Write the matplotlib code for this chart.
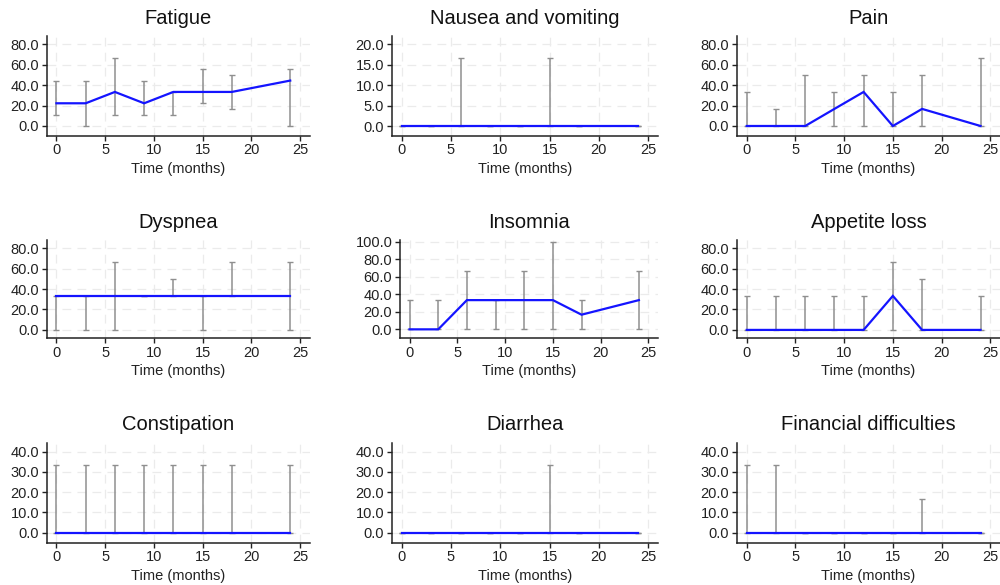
import matplotlib
matplotlib.use("Agg")
import matplotlib.pyplot as plt
from matplotlib.ticker import FormatStrFormatter, MultipleLocator

plt.rcParams['font.family'] = ['Liberation Sans', 'DejaVu Sans']

# ---------------- data ----------------
time = [0, 3, 6, 9, 12, 15, 18, 24]

titles = ["Fatigue", "Nausea and vomiting", "Pain",
          "Dyspnea", "Insomnia", "Appetite loss",
          "Constipation", "Diarrhea", "Financial difficulties"]

fatigue_med = [22.2, 22.2, 33.3, 22.2, 33.3, 33.3, 33.3, 44.4]
fatigue_lo = [11.1, 0.0, 11.1, 11.1, 11.1, 22.2, 16.7, 0.0]
fatigue_hi = [44.4, 44.4, 66.7, 44.4, 33.3, 55.6, 50.0, 55.6]

nausea_med = [0, 0, 0, 0, 0, 0, 0, 0]
nausea_lo = [0, 0, 0, 0, 0, 0, 0, 0]
nausea_hi = [0, 0, 16.7, 0, 0, 16.7, 0, 0]

pain_med = [0, 0, 0, 16.7, 33.3, 0, 16.7, 0]
pain_lo = [0, 0, 0, 0, 0, 0, 0, 0]
pain_hi = [33.3, 16.7, 50.0, 33.3, 50.0, 33.3, 50.0, 66.7]

dyspnea_med = [33.3, 33.3, 33.3, 33.3, 33.3, 33.3, 33.3, 33.3]
dyspnea_lo = [0, 0, 0, 33.3, 33.3, 0, 33.3, 0]
dyspnea_hi = [33.3, 33.3, 66.7, 33.3, 50.0, 33.3, 66.7, 66.7]

insomnia_med = [0, 0, 33.3, 33.3, 33.3, 33.3, 16.7, 33.3]
insomnia_lo = [0, 0, 0, 0, 0, 0, 0, 0]
insomnia_hi = [33.3, 33.3, 66.7, 33.3, 66.7, 100.0, 33.3, 66.7]

appetite_med = [0, 0, 0, 0, 0, 33.3, 0, 0]
appetite_lo = [0, 0, 0, 0, 0, 0, 0, 0]
appetite_hi = [33.3, 33.3, 33.3, 33.3, 33.3, 66.7, 50.0, 33.3]

constipation_med = [0, 0, 0, 0, 0, 0, 0, 0]
constipation_lo = [0, 0, 0, 0, 0, 0, 0, 0]
constipation_hi = [33.3, 33.3, 33.3, 33.3, 33.3, 33.3, 33.3, 33.3]

diarrhea_med = [0, 0, 0, 0, 0, 0, 0, 0]
diarrhea_lo = [0, 0, 0, 0, 0, 0, 0, 0]
diarrhea_hi = [0, 0, 0, 0, 0, 33.3, 0, 0]

financial_med = [0, 0, 0, 0, 0, 0, 0, 0]
financial_lo = [0, 0, 0, 0, 0, 0, 0, 0]
financial_hi = [33.3, 33.3, 0, 0, 0, 0, 16.7, 0]

medians = [fatigue_med, nausea_med, pain_med, dyspnea_med, insomnia_med,
           appetite_med, constipation_med, diarrhea_med, financial_med]
lows = [fatigue_lo, nausea_lo, pain_lo, dyspnea_lo, insomnia_lo,
        appetite_lo, constipation_lo, diarrhea_lo, financial_lo]
highs = [fatigue_hi, nausea_hi, pain_hi, dyspnea_hi, insomnia_hi,
         appetite_hi, constipation_hi, diarrhea_hi, financial_hi]

# y-axis: (tick step, tick max, ylim)
y_step = [20, 5, 20, 20, 20, 20, 10, 10, 10]
y_max = [80, 20, 80, 80, 100, 80, 40, 40, 40]
y_lims = [(-9.5, 88), (-2.3, 22), (-9.5, 88),
          (-8.2, 88), (-10.2, 101.8), (-8.2, 88),
          (-4.9, 44.4), (-4.9, 44.4), (-4.9, 44.4)]

# ---------------- layout ----------------
W, H = 1000, 585
fig = plt.figure(figsize=(10, 5.85), dpi=100)

col_left = [[46.7, 391.7, 737], [46.7, 400, 737], [46.7, 391.7, 737]]
col_right = [309.7, 658, 1000]
row_top = [36, 240, 442.7]
row_bot = [135.7, 338.3, 542.7]

grid_color = "#ebebeb"
bar_color = "#8f8f8f"
line_color = "#1414ff"
axis_color = "#222222"

for i in range(9):
    r, c = divmod(i, 3)
    l = col_left[r][c]
    rt = col_right[c]
    ax = fig.add_axes([l / W, 1 - row_bot[r] / H, (rt - l) / W,
                       (row_bot[r] - row_top[r]) / H])
    med = medians[i]
    lo = lows[i]
    hi = highs[i]
    yerr = [[m - a for m, a in zip(med, lo)], [b - m for m, b in zip(med, hi)]]
    ax.errorbar(time, med, yerr=yerr, fmt='none', ecolor=bar_color,
                elinewidth=1.1, capsize=2.4, capthick=1.0, zorder=3)
    ax.plot(time, med, color=line_color, lw=1.6, zorder=4,
            solid_joinstyle='miter')

    ax.set_xlim(-1, 26)
    ax.set_ylim(*y_lims[i])
    ax.xaxis.set_major_locator(MultipleLocator(5))
    ax.set_yticks([v for v in range(0, y_max[i] + 1, y_step[i])])
    ax.yaxis.set_major_formatter(FormatStrFormatter('%.1f'))

    ax.grid(True, color=grid_color, lw=0.9, ls=(0, (7, 5)), zorder=0)
    ax.set_axisbelow(True)
    for s in ['top', 'right']:
        ax.spines[s].set_visible(False)
    for s in ['left', 'bottom']:
        ax.spines[s].set_color(axis_color)
        ax.spines[s].set_linewidth(1.1)
    ax.tick_params(axis='both', direction='out', length=3.5, width=1.0,
                   color=axis_color, labelsize=10.5, labelcolor="#222222", pad=2)
    ax.set_title(titles[i], fontsize=14.5, pad=9, color="#111111")
    ax.set_xlabel("Time (months)", fontsize=10.5, labelpad=3, color="#222222")

fig.savefig("out.png", dpi=100, facecolor="white")
